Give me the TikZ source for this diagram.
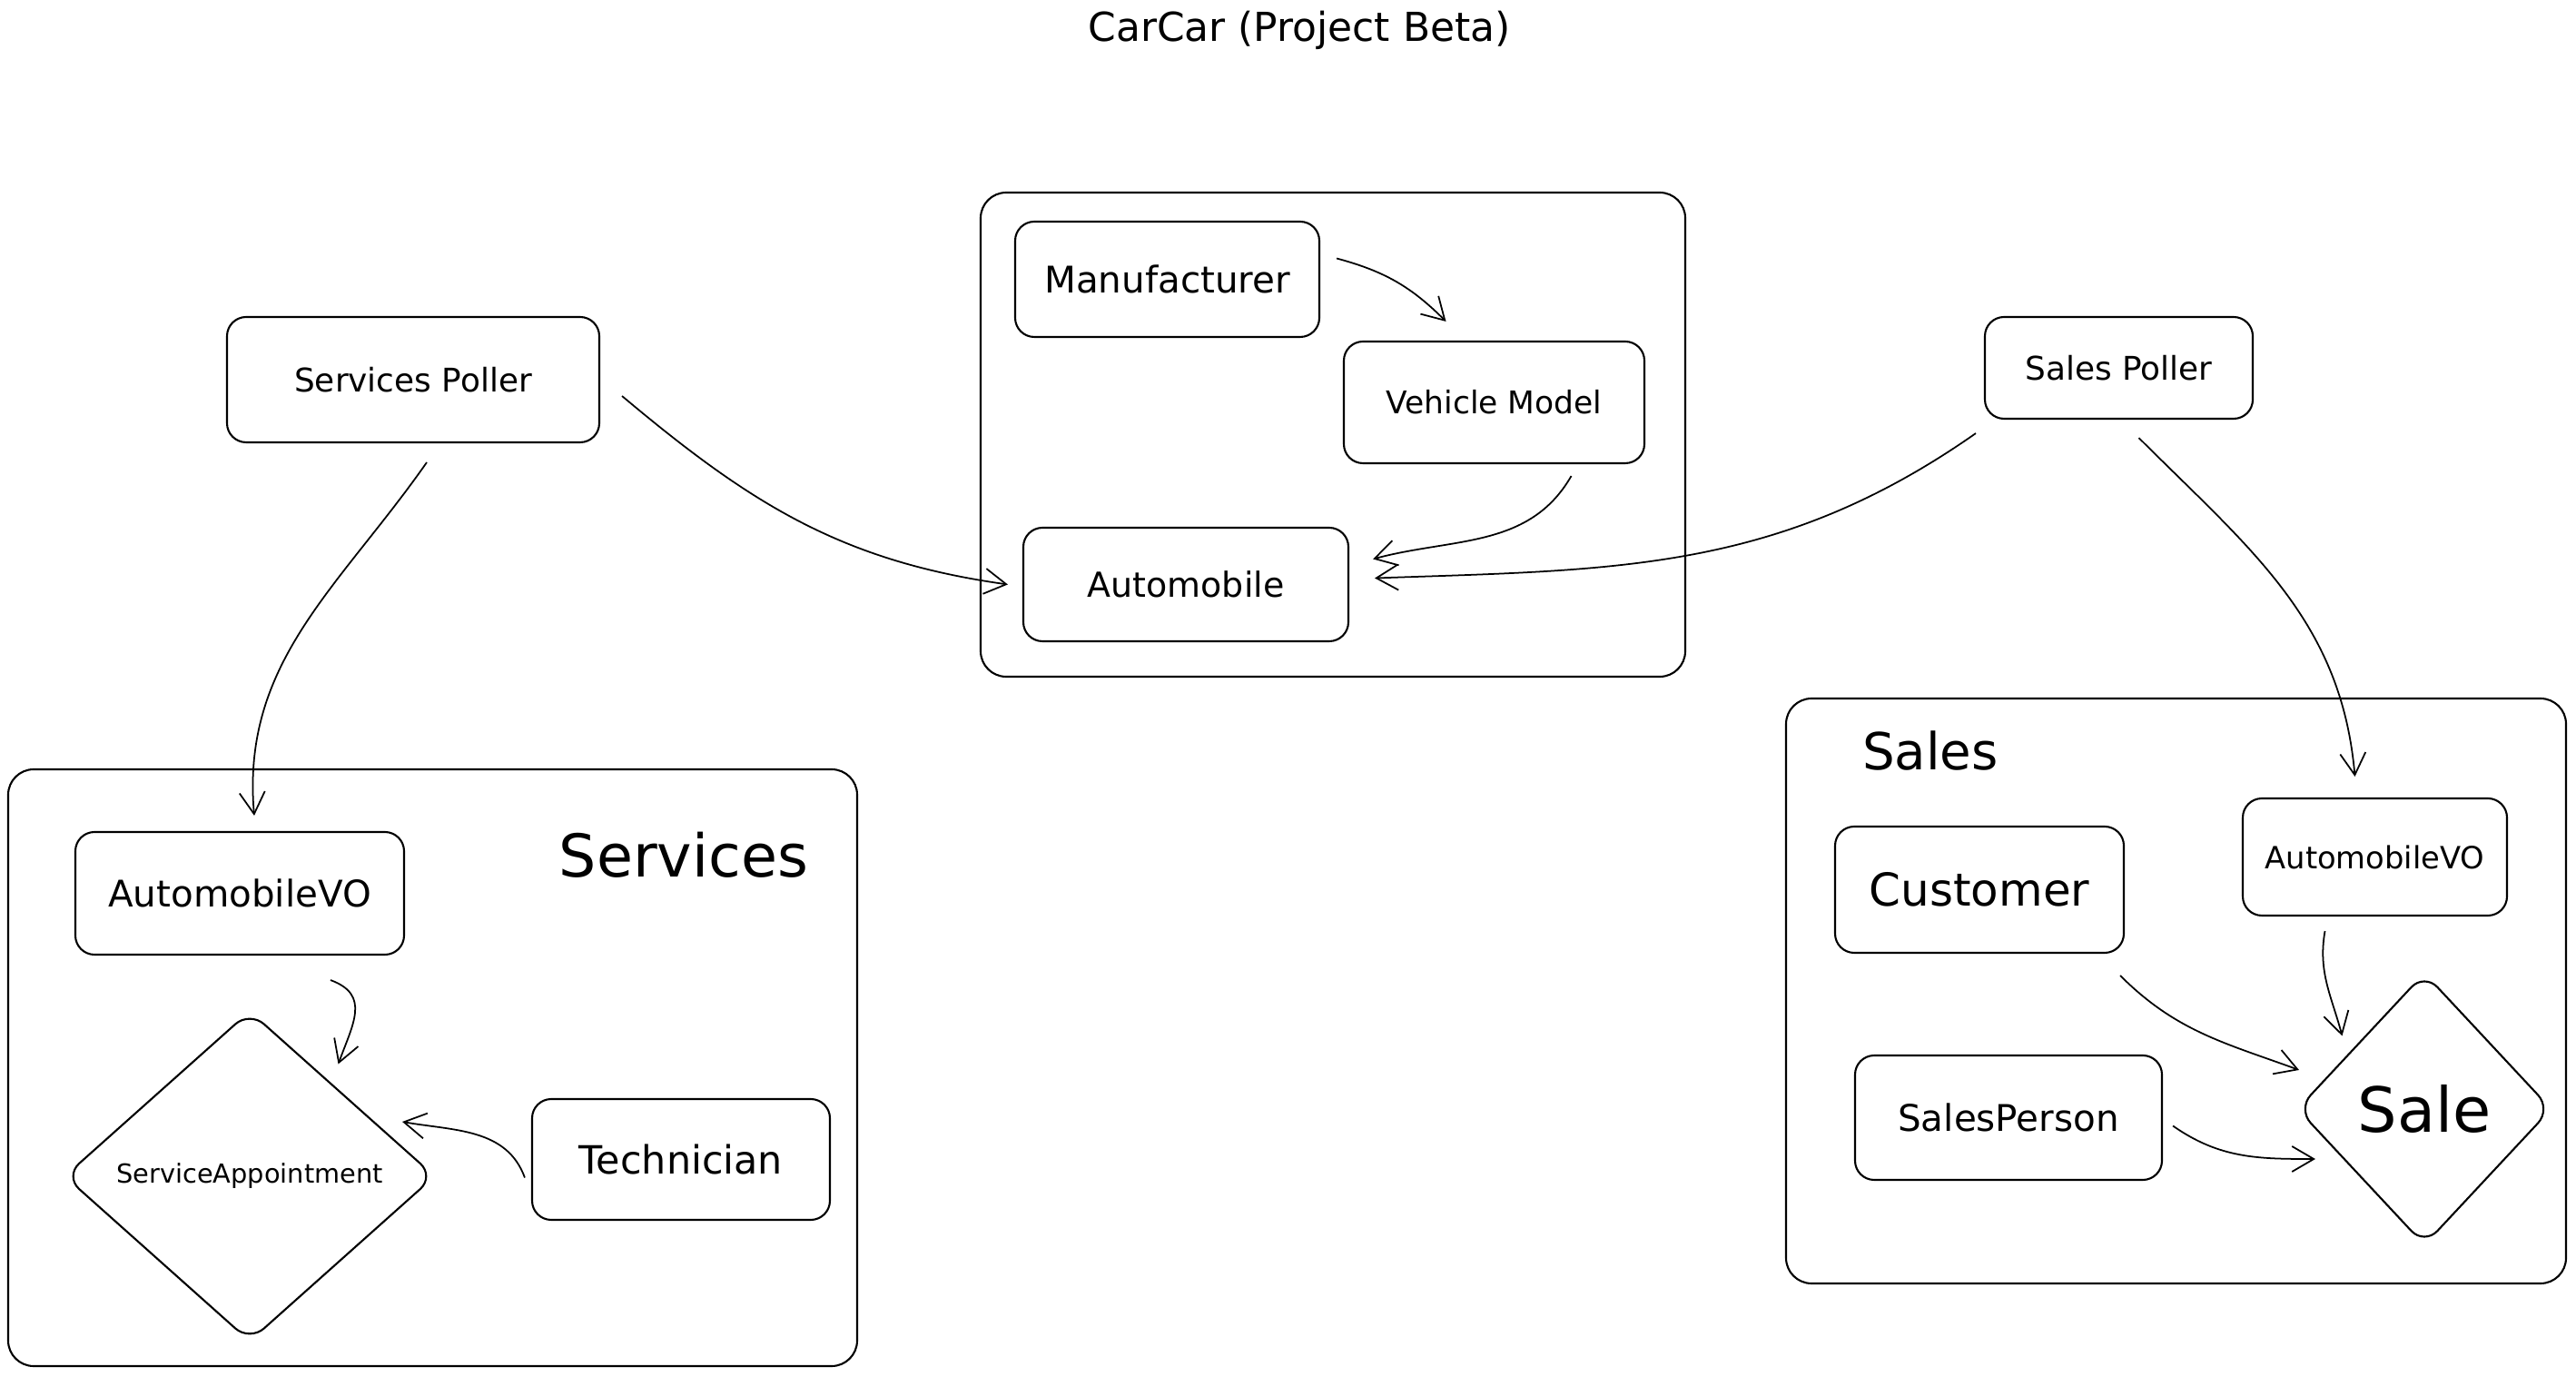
\documentclass[tikz,border=0pt]{standalone}
\usepackage{fontspec}
\setmainfont{DejaVu Sans}
\usetikzlibrary{shapes.geometric,arrows.meta}
\newcommand{\txtsize}[1]{\fontsize{#1}{#1}\selectfont}
\tikzset{
  entity/.style={draw,line width=.6pt,rounded corners=6pt,inner sep=0pt},
  module/.style={draw,line width=.6pt,rounded corners=8pt,inner sep=0pt},
  relation/.style={draw,diamond,line width=.6pt,rounded corners=6pt,inner sep=0pt},
  link/.style={->,line width=.5pt}
}

\begin{document}
\begin{tikzpicture}[>={Straight Barb[length=2.4mm,width=2.8mm]}]
   \useasboundingbox (0,0) rectangle (28.37,15.15);
   \node (title) at (14.31,14.82) {\txtsize{12.5}CarCar (Project Beta)};
   % inventory
   \node[module,minimum width=7.76cm,minimum height=5.33cm] (inv) at (14.68,10.365) {};
   \node[entity,minimum width=3.35cm,minimum height=1.27cm] (man) at (12.855,12.075) {\txtsize{11.5}Manufacturer};
   \node[entity,minimum width=3.31cm,minimum height=1.34cm] (vm) at (16.455,10.72) {\txtsize{9.8}Vehicle Model};
   \node[entity,minimum width=3.58cm,minimum height=1.25cm] (auto) at (13.06,8.715) {\txtsize{10.8}Automobile};
   % pollers
   \node[entity,minimum width=4.10cm,minimum height=1.38cm] (svp) at (4.55,10.97) {\txtsize{10.2}Services Poller};
   \node[entity,minimum width=2.95cm,minimum height=1.12cm] (slp) at (23.335,11.10) {\txtsize{10.2}Sales Poller};
   % services
   \node[module,minimum width=9.35cm,minimum height=6.57cm] (svc) at (4.765,3.395) {};
   \node (svclabel) at (7.53,5.74) {\txtsize{18.5}Services};
   \node[entity,minimum width=3.62cm,minimum height=1.35cm] (avs) at (2.64,5.315) {\txtsize{11.5}AutomobileVO};
   \node[relation,minimum width=4.08cm,minimum height=3.64cm] (sa) at (2.75,2.20) {\txtsize{8.2}ServiceAppointment};
   \node[entity,minimum width=3.28cm,minimum height=1.33cm] (tec) at (7.50,2.385) {\txtsize{12.2}Technician};
   % sales
   \node[module,minimum width=8.59cm,minimum height=6.44cm] (sal) at (23.965,4.24) {};
   \node (sallabel) at (21.26,6.88) {\txtsize{16}Sales};
   \node[entity,minimum width=3.18cm,minimum height=1.39cm] (cus) at (21.80,5.355) {\txtsize{14.2}Customer};
   \node[entity,minimum width=2.91cm,minimum height=1.29cm] (avl) at (26.155,5.715) {\txtsize{9.6}AutomobileVO};
   \node[entity,minimum width=3.38cm,minimum height=1.37cm] (spn) at (22.12,2.845) {\txtsize{11.5}SalesPerson};
   \node[relation,minimum width=2.80cm,minimum height=3.00cm] (sale) at (26.70,2.94) {\txtsize{19.5}Sale};
   % connectors
   \draw[link] ([shift={(0.18,0.23)}]man.east) to[bend left=15] ([shift={(-0.53,0.21)}]vm.north);
   \draw[link] ([shift={(0.85,-0.13)}]vm.south) to[out=-120,in=15] ([shift={(0.26,0.28)}]auto.east);
   \draw[link] ([shift={(0.24,-0.18)}]svp.east) to[out=-40,in=172] ([shift={(-0.16,0)}]auto.west);
   \draw[link] ([shift={(-0.09,-0.15)}]slp.south west) to[out=-145,in=2] ([shift={(0.28,0.07)}]auto.east);
   \draw[link] ([shift={(0.15,-0.21)}]svp.south) to[out=-125,in=95] ([shift={(0.16,0.17)}]avs.north);
   \draw[link] ([shift={(0.22,-0.2)}]slp.south) to[out=-45,in=95] ([shift={(-0.22,0.23)}]avl.north);
   \draw[link] ([shift={(1.0,-0.27)}]avs.south) to[out=-20,in=70,looseness=1.3] ([shift={(-0.05,0.32)}]sa.north east);
   \draw[link] ([shift={(-0.07,-0.2)}]tec.west) to[out=110,in=-10] ([shift={(-0.37,0.6)}]sa.east);
   \draw[link] ([shift={(-0.05,-0.24)}]cus.south east) to[out=-45,in=160] ([shift={(0.03,0.43)}]sale.west);
   \draw[link] ([shift={(0.11,-0.09)}]spn.east) to[out=-35,in=180] ([shift={(0.21,-0.55)}]sale.west);
   \draw[link] ([shift={(-0.55,-0.16)}]avl.south) to[out=-100,in=105] ([shift={(-0.2,0.05)}]sale.north west);
\end{tikzpicture}
\end{document}
